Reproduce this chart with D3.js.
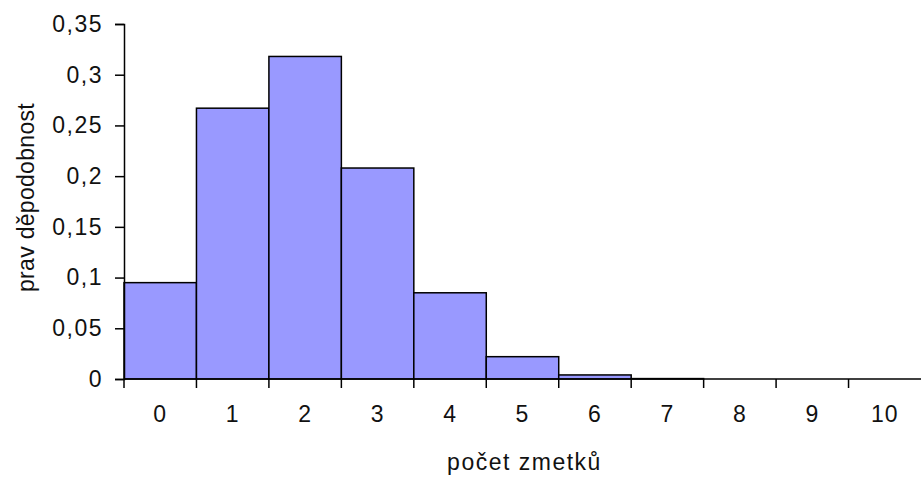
<!DOCTYPE html>
<html>
<head>
<meta charset="utf-8">
<script src="https://cdn.jsdelivr.net/npm/d3@7"></script>
<style>
    body { margin: 0; background: #fff; }
    svg { display: block; }
    text { font-family: 'Liberation Sans', Arial, sans-serif; fill: #111; }
</style>
</head>
<body>
<div id="chart"></div>
<script>
// Chart data
const categories = ['0', '1', '2', '3', '4', '5', '6', '7', '8', '9', '10'];
const probabilities = [0.095, 0.267, 0.318, 0.208, 0.085, 0.022, 0.004, 0.0004, 0, 0, 0];
const yTicks = [0, 0.05, 0.1, 0.15, 0.2, 0.25, 0.3, 0.35];
const xTitle = 'počet zmetků';
const yTitle = 'prav děpodobnost';

const width = 921,
    height = 477;
const margin = { top: 24, right: 0, bottom: 98, left: 124 };
const fontSize = 23;

// czech style decimal comma
const cz = d3.formatLocale({ decimal: ',', thousands: ' ', grouping: [3], currency: ['', ' Kč'] });
const fmt = cz.format('~g');

const svg = d3
    .select('#chart')
    .append('svg')
    .attr('width', width)
    .attr('height', height);

const x = d3
    .scaleBand()
    .domain(categories)
    .range([margin.left, width - margin.right])
    .paddingInner(0)
    .paddingOuter(0);

const y = d3
    .scaleLinear()
    .domain([0, 0.35])
    .range([height - margin.bottom, margin.top]);

// Bars (histogram style, touching)
svg.append('g')
    .selectAll('rect')
    .data(categories)
    .enter()
    .append('rect')
    .attr('x', (d) => x(d))
    .attr('y', (d, i) => y(probabilities[i]))
    .attr('width', x.bandwidth())
    .attr('height', (d, i) => y(0) - y(probabilities[i]))
    .attr('fill', '#9999ff')
    .attr('stroke', '#000')
    .attr('stroke-width', 1.5);

// Y axis
const yAxis = svg
    .append('g')
    .attr('transform', `translate(${margin.left},0)`)
    .call(d3.axisLeft(y).tickValues(yTicks).tickFormat(fmt).tickSize(9).tickPadding(12));
yAxis.select('.domain').attr('stroke', '#000').attr('stroke-width', 1.5);
yAxis.selectAll('.tick line').attr('stroke', '#000').attr('stroke-width', 1.5);
yAxis.selectAll('.tick text')
    .attr('font-size', fontSize)
    .attr('font-family', "'Liberation Sans', Arial, sans-serif")
    .attr('letter-spacing', 1.5)
    .attr('fill', '#111');

// X axis: line + ticks on band boundaries, labels on band centres
const xAxis = svg.append('g').attr('transform', `translate(0,${y(0)})`);
xAxis.append('line')
    .attr('x1', x.range()[0])
    .attr('x2', x.range()[1])
    .attr('stroke', '#000')
    .attr('stroke-width', 1.5);
const bounds = categories.map((c) => x(c));
xAxis.selectAll('line.tick')
    .data(bounds)
    .enter()
    .append('line')
    .attr('class', 'tick')
    .attr('x1', (d) => d)
    .attr('x2', (d) => d)
    .attr('y1', 0)
    .attr('y2', 9)
    .attr('stroke', '#000')
    .attr('stroke-width', 1.5);
xAxis.selectAll('text')
    .data(categories)
    .enter()
    .append('text')
    .attr('x', (d) => x(d) + x.bandwidth() / 2)
    .attr('y', 43)
    .attr('text-anchor', 'middle')
    .attr('font-size', fontSize)
    .attr('letter-spacing', 1)
    .text((d) => d);

// Axis titles
svg.append('text')
    .attr('x', (x.range()[0] + x.range()[1]) / 2 + 2)
    .attr('y', 470)
    .attr('text-anchor', 'middle')
    .attr('font-size', fontSize)
    .attr('letter-spacing', 1.5)
    .text(xTitle);

svg.append('text')
    .attr('transform', `translate(34,${(y(0) + y(0.35)) / 2 - 4}) rotate(-90)`)
    .attr('text-anchor', 'middle')
    .attr('font-size', fontSize)
    .attr('letter-spacing', 0.3)
    .text(yTitle);
</script>
</body>
</html>
